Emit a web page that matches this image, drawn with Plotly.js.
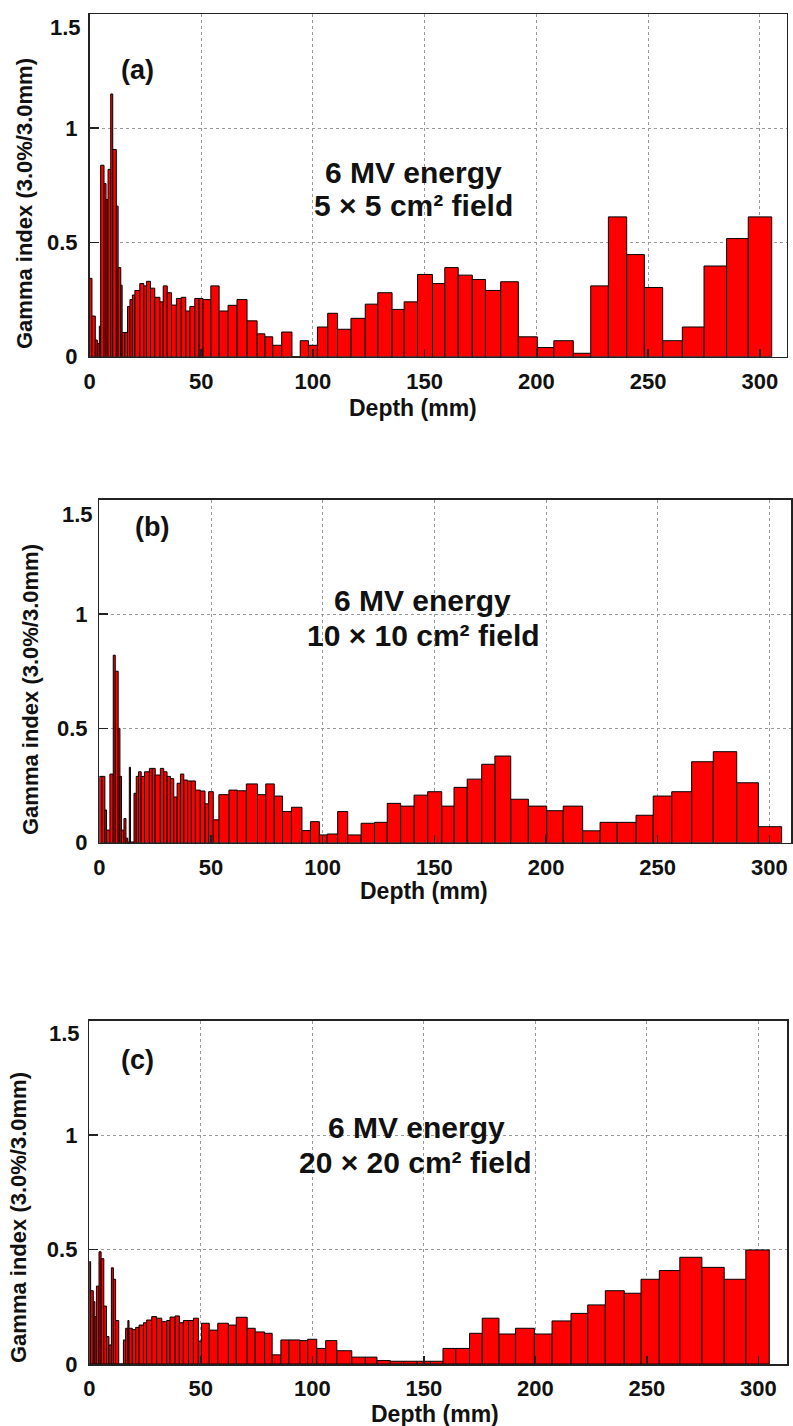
<!DOCTYPE html>
<html>
<head>
<meta charset="utf-8">
<script src="https://cdn.plot.ly/plotly-3.0.1.min.js"></script>
<style>html,body{margin:0;padding:0;background:#fff;}#chart{width:793px;height:1426px;}</style>
</head>
<body>
<div id="chart"></div>
<script>
// ---------------- DATA ----------------
// Depth bin edges (mm) and gamma index per bin, for each panel
const edgesA = [0, 1.1, 2.6, 3.5, 4.4, 5.0, 6.5, 7.4, 8.3, 9.5, 10.4, 12.0, 12.8, 14.0, 14.6, 15.8, 17.0, 18.1, 19.2, 20.3, 22.5, 24.3, 25.5, 27.3, 29.2, 31.5, 33.0, 34.8, 36.7, 38.9, 41.1, 43.1, 44.9, 47.1, 49.0, 50.8, 54.3, 58, 62, 66, 70.5, 75, 78.5, 82, 86, 90.6, 94.3, 98, 102, 106.6, 111, 117, 123.4, 129, 135.4, 140.8, 146.8, 153.5, 159, 165, 171.3, 177.2, 184, 191.9, 200.4, 207.8, 216.5, 224.3, 232.2, 240.4, 248.3, 256.5, 265.3, 275, 285.1, 294.8, 305.3];
const gammaA = [0.343, 0.178, 0.073, 0.058, 0.134, 0.838, 0.758, 0.688, 0.82, 1.15, 0.907, 0.659, 0.39, 0.313, 0.106, 0.106, 0.22, 0.25, 0.27, 0.29, 0.32, 0.31, 0.33, 0.30, 0.26, 0.24, 0.31, 0.28, 0.226, 0.255, 0.26, 0.20, 0.22, 0.255, 0.255, 0.25, 0.31, 0.20, 0.225, 0.25, 0.157, 0.10, 0.087, 0.05, 0.108, 0, 0.07, 0.05, 0.13, 0.19, 0.12, 0.168, 0.23, 0.28, 0.207, 0.24, 0.36, 0.32, 0.39, 0.357, 0.338, 0.29, 0.328, 0.087, 0.04, 0.07, 0.015, 0.31, 0.612, 0.447, 0.303, 0.07, 0.13, 0.397, 0.517, 0.612];

const edgesB = [0, 1.2, 2.45, 3.2, 4.7, 6.2, 7.1, 8.4, 9.2, 9.9, 11.0, 11.9, 12.7, 13.4, 13.9, 15.5, 16.5, 17.5, 18.7, 20.2, 22.4, 23.7, 25.0, 27.3, 28.8, 30.3, 31.8, 33.3, 34.8, 36.3, 37.8, 39.5, 41.2, 43, 45.2, 47.3, 48.9, 51, 53.5, 58, 61.8, 65.8, 70.8, 74.5, 78.3, 82, 86, 90.7, 94.5, 98.5, 102, 106.7, 111.2, 117.2, 123.2, 128.9, 134.9, 140.9, 147, 153.3, 158.8, 164.7, 171.2, 177.1, 184.2, 192.1, 200.3, 207.7, 216.4, 224.2, 231.9, 240.3, 248, 256.3, 265.2, 274.9, 285.4, 295.1, 305.5];
const gammaB = [0.29, 0.29, 0.143, 0.055, 0.30, 0.82, 0.75, 0.5, 0.29, 0.055, 0.106, 0.02, 0.003, 0.33, 0.003, 0.216, 0.29, 0.31, 0.29, 0.31, 0.325, 0.325, 0.296, 0.325, 0.31, 0.29, 0.28, 0.20, 0.26, 0.30, 0.274, 0.27, 0.27, 0.23, 0.226, 0.17, 0.223, 0.1, 0.21, 0.23, 0.227, 0.257, 0.21, 0.257, 0.204, 0.136, 0.155, 0.053, 0.092, 0.034, 0.038, 0.136, 0.034, 0.085, 0.089, 0.172, 0.16, 0.208, 0.223, 0.16, 0.242, 0.278, 0.343, 0.379, 0.19, 0.16, 0.14, 0.16, 0.052, 0.089, 0.089, 0.12, 0.204, 0.223, 0.354, 0.398, 0.262, 0.07];

const edgesC = [0, 0.6, 1.8, 2.5, 3.2, 4.35, 5.3, 6.5, 7.7, 8.8, 9.9, 10.8, 11.8, 13.2, 15.3, 16.3, 17.3, 17.8, 19.3, 20.8, 22.3, 24.3, 25.7, 28, 30.2, 32.5, 34.7, 36.2, 38.5, 40.4, 42.2, 44.5, 46.7, 48.9, 50.3, 53.8, 57.6, 62.4, 65.9, 70.8, 74.4, 78.6, 82, 85.9, 89.5, 94.4, 97.9, 102, 106, 111, 117.7, 123.8, 129, 135, 141, 147, 153, 158.6, 164.3, 170.5, 176.2, 183.7, 191.1, 199.6, 207.5, 216, 223.5, 231.4, 239.9, 247.4, 255.6, 264.8, 274.7, 284.7, 294.4, 304.9];
const gammaC = [0.447, 0.32, 0.272, 0.207, 0.34, 0.49, 0.46, 0.253, 0.12, 0.083, 0.42, 0.37, 0.19, 0, 0.105, 0.156, 0.19, 0.156, 0.15, 0.16, 0.17, 0.18, 0.192, 0.207, 0.20, 0.185, 0.19, 0.205, 0.21, 0.18, 0.19, 0.19, 0.20, 0.10, 0.178, 0.148, 0.178, 0.17, 0.204, 0.156, 0.14, 0.134, 0.04, 0.105, 0.105, 0.102, 0.108, 0.068, 0.102, 0.058, 0.03, 0.03, 0.015, 0.012, 0.012, 0.012, 0.012, 0.068, 0.068, 0.134, 0.20, 0.131, 0.156, 0.131, 0.188, 0.221, 0.258, 0.32, 0.309, 0.37, 0.408, 0.466, 0.422, 0.37, 0.498];

const xTicks = [0, 50, 100, 150, 200, 250, 300];
const yTicks = [0, 0.5, 1, 1.5];
const yTickText = ['0', '0.5', '1', ''];   // top label "1.5" is drawn slightly lower, as an annotation
const yTopLabel = '1.5';
const panelLabels = ['(a)', '(b)', '(c)'];
const energyText = '6 MV energy';
const fieldTexts = ['5 × 5 cm² field', '10 × 10 cm² field', '20 × 20 cm² field'];
const xTitle = 'Depth (mm)';
const yTitle = 'Gamma index (3.0%/3.0mm)';

// ---------------- LAYOUT ----------------
const W = 793, H = 1426;
const FONT = 'Liberation Sans, Arial, Helvetica, sans-serif';
const px = v => v / W;
const py = v => 1 - v / H;

function barTrace(edges, vals, xa, ya) {
  if (edges.length !== vals.length + 1) throw new Error('length mismatch ' + xa);
  const x = [], w = [];
  for (let i = 0; i < vals.length; i++) {
    x.push((edges[i] + edges[i + 1]) / 2);
    w.push(edges[i + 1] - edges[i]);
  }
  return {
    type: 'bar', x: x, y: vals, width: w, xaxis: xa, yaxis: ya,
    marker: {color: '#ff0000', line: {color: '#000000', width: 1}},
    hoverinfo: 'x+y'
  };
}

const data = [
  barTrace(edgesA, gammaA, 'x', 'y'),
  barTrace(edgesB, gammaB, 'x2', 'y2'),
  barTrace(edgesC, gammaC, 'x3', 'y3')
];

// pixel geometry of each panel
const panels = [
  {l: 89.5, r: 786.7, t: 14, b: 356.7, xmax: 312},
  {l: 99.4, r: 791, t: 499.7, b: 842.7, xmax: 309.7},
  {l: 89.3, r: 787.3, t: 1020.5, b: 1364, xmax: 313}
];

function xAxis(p, anchor) {
  return {
    domain: [px(p.l), px(p.r)], range: [0, p.xmax], anchor: anchor,
    tickvals: xTicks, ticks: 'inside', ticklen: 8, tickwidth: 1.5, tickcolor: '#222',
    showline: true, mirror: true, linecolor: '#222', linewidth: 1.5,
    showgrid: true, gridcolor: '#9a9a9a', griddash: 'dot', gridwidth: 1,
    zeroline: false, fixedrange: true, ticklabelstandoff: 4,
    tickfont: {family: FONT, size: 22, color: '#111', weight: 'bold'}
  };
}
function yAxis(p, anchor) {
  return {
    domain: [py(p.b), py(p.t)], range: [0, 1.5], anchor: anchor,
    tickvals: yTicks, ticktext: yTickText, ticks: 'inside', ticklen: 9, tickwidth: 1.5, tickcolor: '#222',
    showline: true, mirror: true, linecolor: '#222', linewidth: 1.5,
    showgrid: true, gridcolor: '#9a9a9a', griddash: 'dot', gridwidth: 1,
    zeroline: false, fixedrange: true, ticklabelstandoff: 6,
    tickfont: {family: FONT, size: 22, color: '#111', weight: 'bold'}
  };
}

function ann(text, x, y, size, extra) {
  return Object.assign({
    text: text, xref: 'paper', yref: 'paper', x: px(x), y: py(y),
    xanchor: 'center', yanchor: 'middle', showarrow: false,
    font: {family: FONT, size: size, color: '#111', weight: 'bold'}
  }, extra || {});
}

const annotations = [
  // top y tick labels
  ann(yTopLabel, 65, 27, 22), ann(yTopLabel, 77, 515, 22), ann(yTopLabel, 64, 1033, 22),
  // panel labels
  ann(panelLabels[0], 137, 70, 27),
  ann(panelLabels[1], 152, 527, 27),
  ann(panelLabels[2], 137, 1060, 27),
  // energy / field text
  ann(energyText, 413, 173, 30), ann(fieldTexts[0], 414, 206, 30),
  ann(energyText, 422, 600, 30), ann(fieldTexts[1], 423, 635, 30),
  ann(energyText, 416, 1127, 30), ann(fieldTexts[2], 415, 1162, 30),
  // x titles
  ann(xTitle, 413, 408, 23), ann(xTitle, 424, 891, 23), ann(xTitle, 435, 1414, 23),
  // y titles
  ann(yTitle, 25, 204, 22, {textangle: -90}),
  ann(yTitle, 30, 690, 22, {textangle: -90}),
  ann(yTitle, 18, 1218, 22, {textangle: -90})
];

const layout = {
  width: W, height: H,
  margin: {l: 0, r: 0, t: 0, b: 0, pad: 0},
  paper_bgcolor: '#ffffff', plot_bgcolor: '#ffffff',
  showlegend: false, bargap: 0,
  font: {family: FONT, color: '#111'},
  xaxis: xAxis(panels[0], 'y'), yaxis: yAxis(panels[0], 'x'),
  xaxis2: xAxis(panels[1], 'y2'), yaxis2: yAxis(panels[1], 'x2'),
  xaxis3: xAxis(panels[2], 'y3'), yaxis3: yAxis(panels[2], 'x3'),
  annotations: annotations
};

Plotly.newPlot('chart', data, layout, {displayModeBar: false, staticPlot: true});
</script>
</body>
</html>
